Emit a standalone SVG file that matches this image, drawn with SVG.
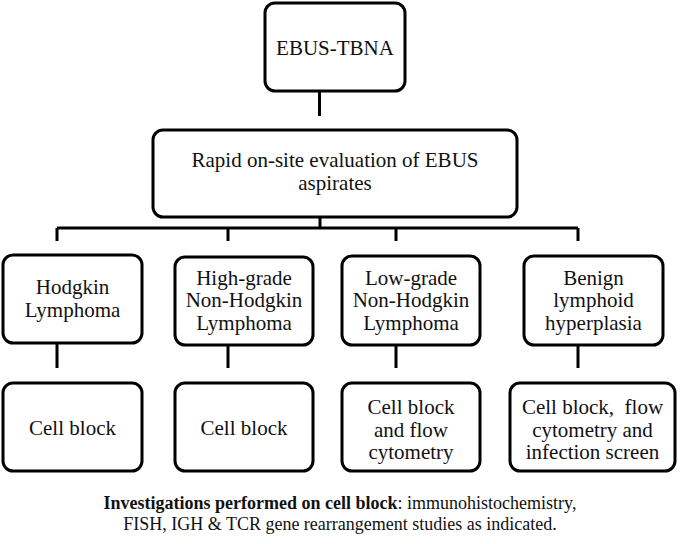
<svg xmlns="http://www.w3.org/2000/svg" width="680" height="544" viewBox="0 0 680 544">
<style>
.box{fill:#fff;stroke:#000;stroke-width:3}
.ln{stroke:#000;stroke-width:3;fill:none}
.t{font-family:'Liberation Serif','Times New Roman',serif;font-size:21px;fill:#111;text-anchor:middle}
.f{font-size:18px}
.b{font-weight:bold}
</style>
<rect width="680" height="544" fill="#fff"/>
<g id="connectors">
<path class="ln" d="M319.5 91 V116"/>
<path class="ln" d="M320 217 V228 M57 228 H578 M57 228 V241 M228 228 V241 M396 228 V241 M578 228 V241"/>
<path class="ln" d="M57 343 V368 M228 345 V368 M396 345 V368 M578 345 V368"/>
</g>
<g id="ebus"><rect class="box" x="265" y="3" width="140" height="88" rx="10"/><text class="t" x="335" y="55">EBUS-TBNA</text></g>
<g id="rose"><rect class="box" x="153" y="130" width="364" height="87" rx="10"/><text class="t" x="335" y="167">Rapid on-site evaluation of EBUS</text><text class="t" x="335" y="190">aspirates</text></g>
<g id="hodgkin"><rect class="box" x="3" y="255" width="139" height="88" rx="10"/><text class="t" x="72.5" y="294">Hodgkin</text><text class="t" x="72.5" y="317">Lymphoma</text></g>
<g id="highgrade"><rect class="box" x="175" y="257" width="138" height="88" rx="10"/><text class="t" x="244" y="285">High-grade</text><text class="t" x="244" y="307">Non-Hodgkin</text><text class="t" x="244" y="330">Lymphoma</text></g>
<g id="lowgrade"><rect class="box" x="342" y="256" width="138" height="89" rx="10"/><text class="t" x="411" y="285">Low-grade</text><text class="t" x="411" y="307">Non-Hodgkin</text><text class="t" x="411" y="330">Lymphoma</text></g>
<g id="benign"><rect class="box" x="524" y="256" width="139" height="89" rx="10"/><text class="t" x="593.5" y="285">Benign</text><text class="t" x="593.5" y="307">lymphoid</text><text class="t" x="593.5" y="330">hyperplasia</text></g>
<g id="cb1"><rect class="box" x="3" y="383" width="139" height="88" rx="10"/><text class="t" x="72.5" y="435">Cell block</text></g>
<g id="cb2"><rect class="box" x="175" y="383" width="138" height="88" rx="10"/><text class="t" x="244" y="435">Cell block</text></g>
<g id="cb3"><rect class="box" x="342" y="383" width="138" height="88" rx="10"/><text class="t" x="411" y="414">Cell block</text><text class="t" x="411" y="437">and flow</text><text class="t" x="411" y="459">cytometry</text></g>
<g id="cb4"><rect class="box" x="510" y="383" width="165" height="88" rx="10"/><text class="t" x="592.5" y="414" xml:space="preserve">Cell block,  flow</text><text class="t" x="592.5" y="437">cytometry and</text><text class="t" x="592.5" y="459">infection screen</text></g>
<text class="t f" x="340" y="509"><tspan class="b">Investigations performed on cell block</tspan>: immunohistochemistry,</text>
<text class="t f" x="340" y="530">FISH, IGH &amp; TCR gene rearrangement studies as indicated.</text>
</svg>
